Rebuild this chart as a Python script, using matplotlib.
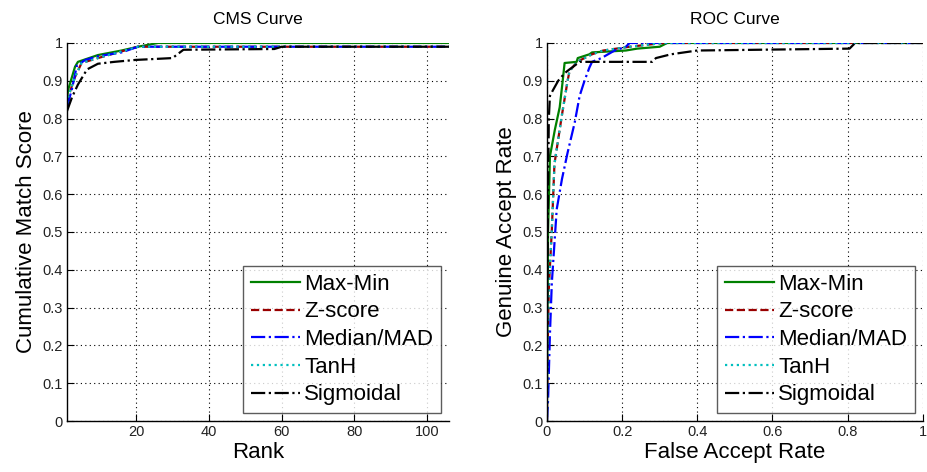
import matplotlib
matplotlib.use('Agg')
import matplotlib.pyplot as plt

plt.rcParams['font.family'] = ['Liberation Sans', 'DejaVu Sans']

methods = ['Max-Min', 'Z-score', 'Median/MAD', 'TanH', 'Sigmoidal']
colors = ['#008000', '#990000', '#0000ff', '#00bfbf', '#000000']
styles = ['-', '--', '-.', ':', '-.']

# CMS curve: rank vs cumulative match score
cms_rank = [
    [1, 1.3, 3.2, 4, 9.5, 16, 20.5, 26, 106],
    [1, 1.3, 3.2, 5, 9.5, 15, 20.5, 106],
    [1, 2.4, 3.7, 6, 9.5, 16, 20.5, 106],
    [1, 1.3, 3.2, 5, 9.5, 15, 20.5, 106],
    [1, 2.4, 4, 6.5, 9.5, 14, 19.7, 30, 33, 58, 60, 106],
]
cms_score = [
    [0.85, 0.876, 0.937, 0.95, 0.968, 0.98, 0.99, 1.0, 1.0],
    [0.84, 0.857, 0.91, 0.947, 0.96, 0.975, 0.99, 0.99],
    [0.83, 0.88, 0.94, 0.955, 0.965, 0.975, 0.99, 0.99],
    [0.84, 0.857, 0.91, 0.947, 0.96, 0.975, 0.99, 0.99],
    [0.82, 0.857, 0.89, 0.93, 0.945, 0.95, 0.955, 0.96, 0.982, 0.984, 0.99, 0.99],
]
cms_ticks = [20, 40, 60, 80, 100]

# ROC curve: false accept rate vs genuine accept rate
roc_far = [
    [0, 0.001, 0.002, 0.003, 0.008, 0.021, 0.034, 0.042, 0.047, 0.079, 0.082,
     0.113, 0.12, 0.21, 0.24, 0.30, 0.32, 1.0],
    [0, 0.002, 0.005, 0.013, 0.02, 0.04, 0.055, 0.06, 0.08, 0.12, 0.15, 0.22,
     0.31, 1.0],
    [0, 0.003, 0.008, 0.013, 0.02, 0.026, 0.04, 0.055, 0.074, 0.087, 0.1,
     0.113, 0.12, 0.145, 0.18, 0.21, 0.22, 1.0],
    [0, 0.002, 0.005, 0.013, 0.02, 0.04, 0.055, 0.06, 0.08, 0.12, 0.15, 0.22,
     0.31, 1.0],
    [0, 0.001, 0.003, 0.005, 0.008, 0.016, 0.03, 0.047, 0.06, 0.087, 0.28,
     0.29, 0.33, 0.40, 0.805, 0.82, 1.0],
]
roc_gar = [
    [0, 0.2, 0.35, 0.5, 0.70, 0.77, 0.83, 0.90, 0.947, 0.95, 0.96, 0.97,
     0.975, 0.98, 0.985, 0.99, 1.0, 1.0],
    [0, 0.2, 0.35, 0.505, 0.68, 0.81, 0.90, 0.925, 0.95, 0.97, 0.98, 0.99,
     1.0, 1.0],
    [0, 0.055, 0.23, 0.365, 0.47, 0.56, 0.64, 0.71, 0.79, 0.86, 0.90, 0.935,
     0.95, 0.96, 0.98, 0.99, 1.0, 1.0],
    [0, 0.2, 0.35, 0.505, 0.68, 0.81, 0.90, 0.925, 0.95, 0.97, 0.98, 0.99,
     1.0, 1.0],
    [0, 0.3, 0.6, 0.8, 0.86, 0.875, 0.90, 0.92, 0.93, 0.95, 0.95, 0.96, 0.97,
     0.98, 0.985, 1.0, 1.0],
]
roc_ticks = [0, 0.2, 0.4, 0.6, 0.8, 1]
roc_ticklabels = ['0', '0.2', '0.4', '0.6', '0.8', '1']

y_ticks = [0, 0.1, 0.2, 0.3, 0.4, 0.5, 0.6, 0.7, 0.8, 0.9, 1]
y_ticklabels = ['0', '0.1', '0.2', '0.3', '0.4', '0.5', '0.6', '0.7', '0.8',
                '0.9', '1']


def style_axes(ax):
    for side in ['top', 'right']:
        ax.spines[side].set_visible(False)
    for side in ['left', 'bottom']:
        ax.spines[side].set_linewidth(1.0)
    ax.tick_params(direction='in', length=5, labelsize=10.5, width=0.8,
                   labelcolor='#222222', pad=3)
    ax.grid(True, color='k', linestyle=(0, (1, 3)), linewidth=0.8)
    ax.set_axisbelow(True)
    ax.set_yticks(y_ticks)
    ax.set_yticklabels(y_ticklabels)
    ax.set_ylim(0, 1)


fig = plt.figure(figsize=(9.27, 4.72), dpi=100)
ax1 = fig.add_axes([0.0723, 0.108, 0.412, 0.801])
ax2 = fig.add_axes([0.590, 0.108, 0.4055, 0.801])

for i, name in enumerate(methods):
    ax1.plot(cms_rank[i], cms_score[i], color=colors[i], linestyle=styles[i],
             linewidth=1.6, label=name)
    ax2.plot(roc_far[i], roc_gar[i], color=colors[i], linestyle=styles[i],
             linewidth=1.6, label=name)

style_axes(ax1)
ax1.set_xlim(1, 106)
ax1.set_xticks(cms_ticks)
ax1.set_title('CMS Curve', fontsize=12.5, pad=14)
ax1.set_xlabel('Rank', fontsize=16, labelpad=2)
ax1.set_ylabel('Cumulative Match Score', fontsize=16, labelpad=4)

style_axes(ax2)
ax2.set_xlim(0, 1)
ax2.set_xticks(roc_ticks)
ax2.set_xticklabels(roc_ticklabels)
ax2.set_title('ROC Curve', fontsize=12.5, pad=14)
ax2.set_xlabel('False Accept Rate', fontsize=16, labelpad=2)
ax2.set_ylabel('Genuine Accept Rate', fontsize=16, labelpad=4)

for ax in (ax1, ax2):
    leg = ax.legend(loc='lower right', fontsize=16, frameon=True,
                    fancybox=False, handlelength=2.2, handletextpad=0.2,
                    labelspacing=0.3, borderpad=0.35, borderaxespad=0.35)
    leg.get_frame().set_edgecolor('#333333')
    leg.get_frame().set_linewidth(1.0)

fig.savefig('out.png', dpi=100)
